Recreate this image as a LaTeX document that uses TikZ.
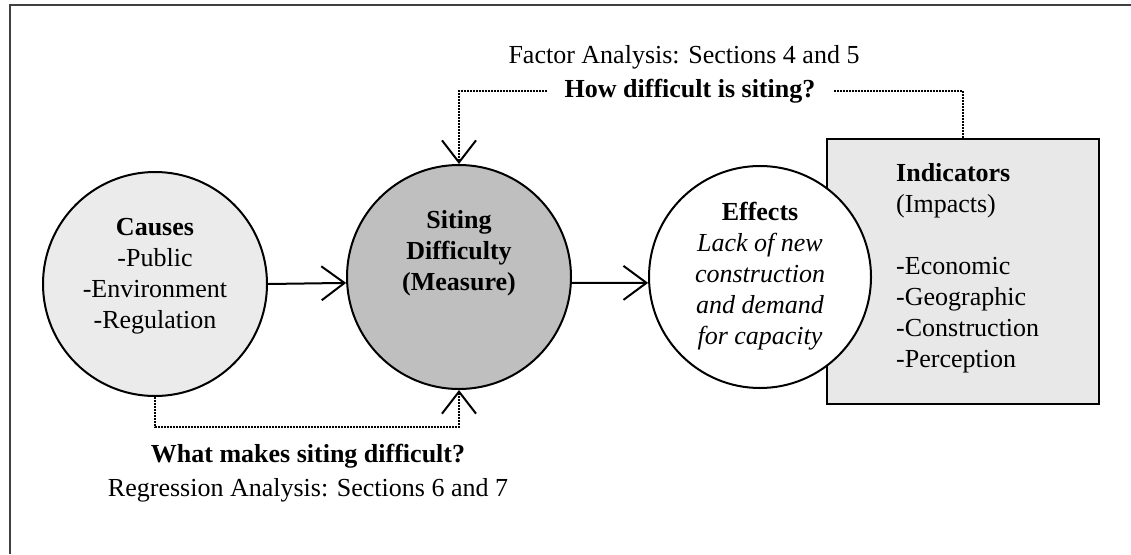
\documentclass[tikz,border=0pt]{standalone}
\usepackage{fontspec}
\setmainfont{Liberation Serif}
\usetikzlibrary{arrows.meta}
\begin{document}
\begin{tikzpicture}[x=1pt,y=-1pt,
  every node/.style={font=\fontsize{26}{31}\selectfont, inner sep=0pt},
  bubble/.style={circle, draw=black, line width=2pt, minimum size=224pt},
  txt/.style={align=center},
  solidarrow/.style={line width=2pt, -{Straight Barb[length=23pt,width=34pt,line width=2pt]}},
  dotline/.style={line width=2pt, dash pattern=on 1.6pt off 1.4pt},
  dotarrow/.style={dotline, -{Straight Barb[length=22pt,width=34pt,line width=2pt]}}
]
\useasboundingbox (0,0) rectangle (1131,554);
\fill[white] (0,0) rectangle (1131,554);
% frame
\draw[line width=1.4pt, black!75] (10,554) -- (10,5) -- (1131,5);

% indicators box
\node[draw=black, line width=2.5pt, fill=black!9, minimum width=272pt, minimum height=265pt] (ind) at (963,271.5) {};
\node[align=left, anchor=west] (indtext) at (896,268) {\textbf{Indicators}\\(Impacts)\\[31pt]-Economic\\-Geographic\\-Construction\\-Perception};

% circles
\node[bubble, fill=black!8] (causes) at (155,284) {};
\node[txt] (causestext) at (155,276) {\textbf{Causes}\\-Public\\-Environment\\-Regulation};

\node[bubble, fill=black!25] (siting) at (459,277) {};
\node[txt] (sitingtext) at (459,253) {\textbf{Siting}\\\textbf{Difficulty}\\\textbf{(Measure)}};

\node[bubble, fill=white, minimum size=222pt] (effects) at (760,277) {};
\node[txt] (effectstext) at (760,276) {\textbf{Effects}\\\textit{Lack of new}\\\textit{construction}\\\textit{and demand}\\\textit{for capacity}};

% solid arrows
\draw[solidarrow] (causes.-0.5) -- (siting.183);
\draw[solidarrow] (siting.-3) -- (effects.183);

% top labels and dotted connector
\node (factor) at (684,57) {Factor Analysis: Sections 4 and 5};
\node[font=\fontsize{26}{31}\selectfont\bfseries, inner xsep=17.5pt] (howq) at (690,91) {How difficult is siting?};
\draw[dotline] (ind.north) |- (howq.east);
\draw[dotarrow] (howq.west) -| (siting.north);

% bottom dotted connector and labels
\draw[dotarrow] (causes.south) -- ++(0,30) -| (siting.south);
\node[font=\fontsize{26}{31}\selectfont\bfseries] (whatq) at (308,456) {What makes siting difficult?};
\node (regr) at (308,490) {Regression Analysis: Sections 6 and 7};
\end{tikzpicture}
\end{document}
